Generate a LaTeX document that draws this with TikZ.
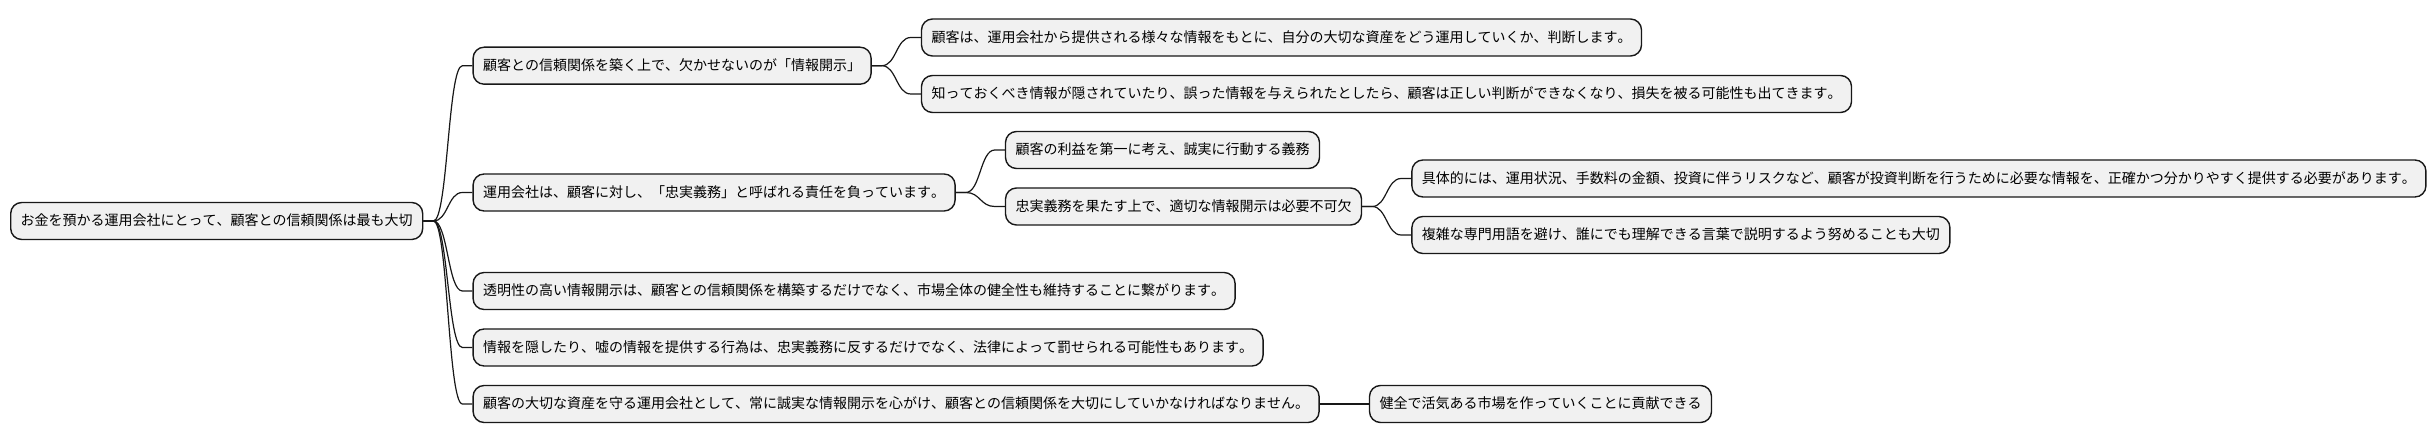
\documentclass[tikz,border=0pt]{standalone}
\usepackage{fontspec}
\setmainfont[Kerning=Off]{Noto Sans CJK JP}
\usetikzlibrary{calc}
\definecolor{boxfill}{HTML}{F1F1F1}
\definecolor{boxline}{HTML}{181818}
\tikzset{
  mm/.style={draw=boxline, fill=boxfill, line width=1.4pt, rounded corners=11pt,
    anchor=west, inner xsep=10pt, inner ysep=0pt, minimum height=37pt,
    text height=12pt, text depth=2pt, font=\fontsize{14pt}{16pt}\selectfont, text=black},
  conn/.style={draw=boxline, line width=1.2pt},
}
\newcommand{\mylink}[2]{%
  \path (#1.east) ++(10pt,0) coordinate (ls);
  \path (#2.west) ++(-10pt,0) coordinate (le);
  \coordinate (lm) at ($(ls)!0.5!(le)$);
  \draw[conn] (#1.east) -- (ls) .. controls (lm |- ls) and (lm |- le) .. (le) -- (#2.west);
}
\begin{document}
\begin{tikzpicture}[x=1pt,y=-1pt]
\useasboundingbox[fill=white] (0,0) rectangle (2434,443);
% root
\node[mm] (root) at (10,221) {お金を預かる運用会社にとって、顧客との信頼関係は最も大切};
\path (root.east) ++(49,0) coordinate (x1);
% level 1
\node[mm] (a) at (x1 |- 0,65.7) {顧客との信頼関係を築く上で、欠かせないのが「情報開示」};
\node[mm] (b) at (x1 |- 0,192.5) {運用会社は、顧客に対し、「忠実義務」と呼ばれる責任を負っています。};
\node[mm] (f) at (x1 |- 0,291) {透明性の高い情報開示は、顧客との信頼関係を構築するだけでなく、市場全体の健全性も維持することに繋がります。};
\node[mm] (g) at (x1 |- 0,347.5) {情報を隠したり、嘘の情報を提供する行為は、忠実義務に反するだけでなく、法律によって罰せられる可能性もあります。};
\node[mm] (h) at (x1 |- 0,404) {顧客の大切な資産を守る運用会社として、常に誠実な情報開示を心がけ、顧客との信頼関係を大切にしていかなければなりません。};
% children of a
\path (a.east) ++(49,0) coordinate (xa);
\node[mm] (c1) at (xa |- 0,37.5) {顧客は、運用会社から提供される様々な情報をもとに、自分の大切な資産をどう運用していくか、判断します。};
\node[mm] (c2) at (xa |- 0,94) {知っておくべき情報が隠されていたり、誤った情報を与えられたとしたら、顧客は正しい判断ができなくなり、損失を被る可能性も出てきます。};
% children of b
\path (b.east) ++(49,0) coordinate (xb);
\node[mm] (d1) at (xb |- 0,150) {顧客の利益を第一に考え、誠実に行動する義務};
\node[mm] (d2) at (xb |- 0,206.5) {忠実義務を果たす上で、適切な情報開示は必要不可欠};
% children of d2
\path (d2.east) ++(49,0) coordinate (xd);
\node[mm] (e1) at (xd |- 0,178.5) {具体的には、運用状況、手数料の金額、投資に伴うリスクなど、顧客が投資判断を行うために必要な情報を、正確かつ分かりやすく提供する必要があります。};
\node[mm] (e2) at (xd |- 0,235) {複雑な専門用語を避け、誰にでも理解できる言葉で説明するよう努めることも大切};
% child of h
\path (h.east) ++(49,0) coordinate (xh);
\node[mm] (i) at (xh |- 0,404) {健全で活気ある市場を作っていくことに貢献できる};
% connectors
\mylink{root}{a}
\mylink{root}{b}
\mylink{root}{f}
\mylink{root}{g}
\mylink{root}{h}
\mylink{a}{c1}
\mylink{a}{c2}
\mylink{b}{d1}
\mylink{b}{d2}
\mylink{d2}{e1}
\mylink{d2}{e2}
\mylink{h}{i}
\end{tikzpicture}
\end{document}
